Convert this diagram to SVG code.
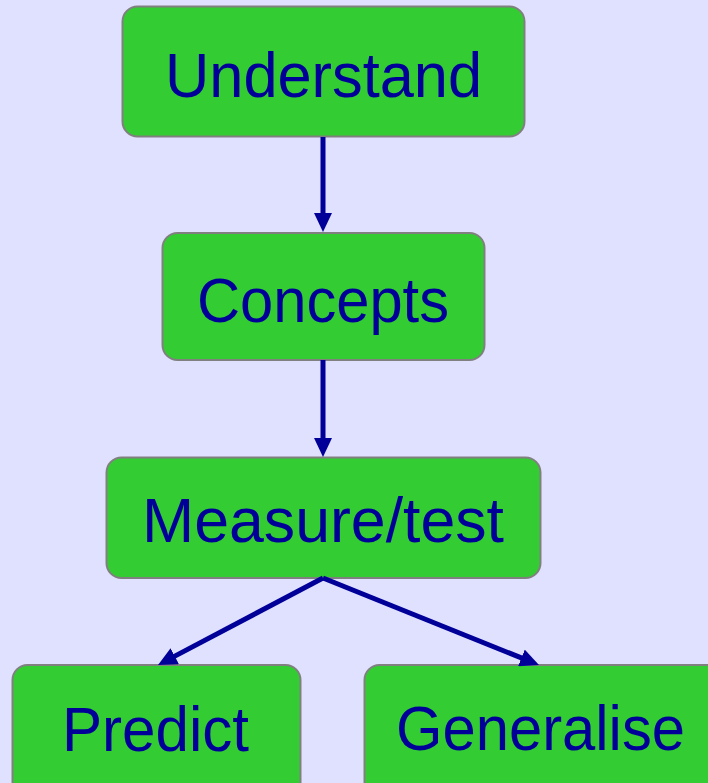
<svg xmlns="http://www.w3.org/2000/svg" width="708" height="783" viewBox="0 0 708 783">
  <style>
    .box { fill: #33cc33; stroke: #808080; stroke-width: 2; }
    .lbl { font-family: "Liberation Sans", Arial, sans-serif; font-size: 63px; fill: #000099; text-anchor: middle; }
    .edge { stroke: #000099; stroke-width: 5; fill: none; marker-end: url(#arrow); }
  </style>
  <defs>
    <marker id="arrow" markerUnits="userSpaceOnUse" markerWidth="19" markerHeight="18" refX="8" refY="9" orient="auto">
      <path d="M0,0 L19,9 L0,18 z" fill="#000099"/>
    </marker>
  </defs>
  <rect width="708" height="783" fill="#e0e0ff"/>
  <g id="understand">
    <rect class="box" x="122.5" y="6.5" width="402" height="130" rx="15"/>
    <text class="lbl" x="323.5" y="97" textLength="317" lengthAdjust="spacingAndGlyphs">Understand</text>
  </g>
  <g id="concepts">
    <rect class="box" x="162.5" y="233" width="322" height="127" rx="15"/>
    <text class="lbl" x="323" y="322" textLength="252" lengthAdjust="spacingAndGlyphs">Concepts</text>
  </g>
  <g id="measure">
    <rect class="box" x="106.5" y="457.5" width="434" height="120.5" rx="15"/>
    <text class="lbl" x="323" y="542" textLength="362" lengthAdjust="spacingAndGlyphs">Measure/test</text>
  </g>
  <g id="predict">
    <rect class="box" x="12.5" y="665" width="288" height="140" rx="15"/>
    <text class="lbl" x="155.5" y="751" textLength="187" lengthAdjust="spacingAndGlyphs">Predict</text>
  </g>
  <g id="generalise">
    <rect class="box" x="364.5" y="665" width="360" height="140" rx="15"/>
    <text class="lbl" x="540.5" y="750" textLength="289" lengthAdjust="spacingAndGlyphs">Generalise</text>
  </g>
  <g id="connectors">
    <line class="edge" x1="323" y1="137" x2="323" y2="221"/>
    <line class="edge" x1="323" y1="360" x2="323" y2="446"/>
    <line class="edge" x1="323" y1="578" x2="167.7" y2="659.9"/>
    <line class="edge" x1="323" y1="578" x2="528.8" y2="660.9"/>
  </g>
</svg>
